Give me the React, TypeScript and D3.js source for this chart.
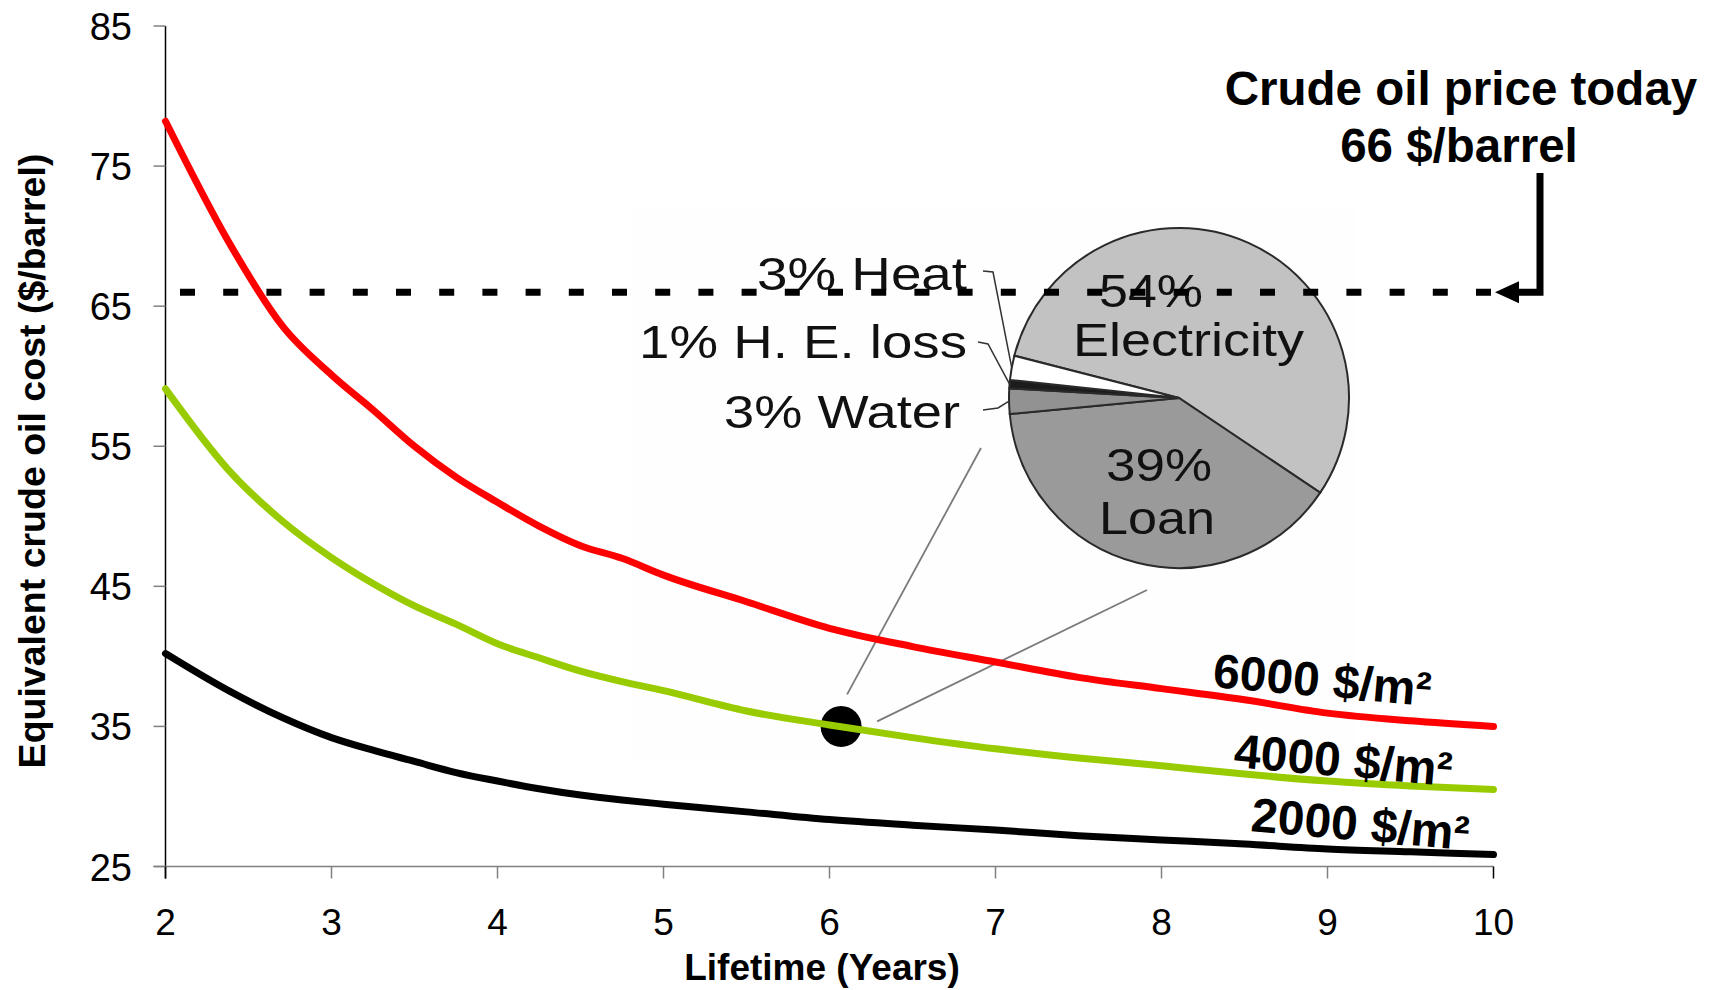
import React from "react";
import * as d3 from "d3";

// ---------- data ----------
const lifetimes = [2, 2.38, 2.71, 3, 3.25, 3.5, 3.75, 4, 4.25, 4.5, 4.75, 5, 5.5, 6, 6.5, 7, 7.5, 8, 8.5, 9, 9.5, 10];
const cost6000 = [78.2, 69.6, 63.5, 60.1, 57.6, 55.0, 52.8, 51.0, 49.3, 47.9, 47.0, 45.8, 43.9, 42.0, 40.7, 39.6, 38.5, 37.7, 36.9, 35.95, 35.4, 35.0];
const cost4000 = [59.1, 53.3, 49.6, 47.05, 45.2, 43.6, 42.3, 40.9, 39.9, 38.95, 38.2, 37.55, 36.1, 35.1, 34.2, 33.4, 32.75, 32.2, 31.6, 31.1, 30.75, 30.5];
const cost2000 = [40.2, 37.55, 35.6, 34.2, 33.3, 32.5, 31.7, 31.1, 30.55, 30.1, 29.75, 29.45, 28.9, 28.35, 27.95, 27.6, 27.2, 26.9, 26.6, 26.25, 26.05, 25.85];
const seriesNames = ["6000 $/m²", "4000 $/m²", "2000 $/m²"];
const seriesColors = ["#ff0000", "#99cc00", "#000000"];

const xTicks = [2, 3, 4, 5, 6, 7, 8, 9, 10];
const yTicks = [25, 35, 45, 55, 65, 75, 85];

const oilPriceToday = 66;
const highlightLifetime = 6.07;
const highlightCost = 35.0;

const pieCategories = ["Electricity", "Loan", "Water", "H. E. loss", "Heat"];
const pieShares = [55.4, 39.1, 2.4, 0.8, 2.3];
const pieLabels = ["54%", "39%", "3%", "1%", "3%"];
const pieColors = ["#c2c2c2", "#9a9a9a", "#929292", "#1c1c1c", "#ffffff"];

// ---------- layout ----------
const W = 1722;
const H = 990;
const FONT = "'Liberation Sans', Arial, Helvetica, sans-serif";

export default function App() {
  const x = d3.scaleLinear().domain([2, 10]).range([165.5, 1493.5]);
  const y = d3.scaleLinear().domain([25, 85]).range([866.5, 26]);

  const line = d3
    .line<number>()
    .x((_, i) => x(lifetimes[i]))
    .y((d) => y(d))
    .curve(d3.curveMonotoneX);

  const series = [cost6000, cost4000, cost2000];

  const pcx = 1179;
  const pcy = 398;
  const pr = 170;
  const start = (-75.6 * Math.PI) / 180;
  const pie = d3
    .pie<number>()
    .sort(null)
    .value((d) => d)
    .startAngle(start)
    .endAngle(start + 2 * Math.PI)(pieShares);
  const arc = d3.arc<d3.PieArcDatum<number>>().innerRadius(0).outerRadius(pr);
  const edge = (a: d3.PieArcDatum<number>) => {
    const m = (a.startAngle + a.endAngle) / 2;
    return [pcx + pr * Math.sin(m), pcy - pr * Math.cos(m)];
  };

  const outside = [
    { i: 4, x: 757, y: 290, len: 210, p0: [983, 271], p1: [993, 272] },
    { i: 3, x: 639, y: 358, len: 328, p0: [978, 342], p1: [988, 344] },
    { i: 2, x: 724, y: 428, len: 236, p0: [983, 410], p1: [998, 408] },
  ];

  const yOil = y(oilPriceToday);
  const hx = x(highlightLifetime);
  const hy = y(highlightCost);
  const PF = 47;

  return (
    <svg
      width={W}
      height={H}
      viewBox={`0 0 ${W} ${H}`}
      style={{ position: "absolute", left: 0, top: 0, display: "block", background: "#fff" }}
      fontFamily={FONT}
    >
      <rect x={0} y={0} width={W} height={H} fill="#ffffff" />

      {/* inset background (very faint) */}
      <rect x={630} y={207} width={725} height={553} fill="#fefefe" />

      {/* pie */}
      <g transform={`translate(${pcx},${pcy})`}>
        {pie.map((a, i) => (
          <path key={i} d={arc(a) || ""} fill={pieColors[i]} stroke="#2a2a2a" strokeWidth={2} />
        ))}
      </g>
      <text x={1099} y={307} fontSize={PF} textLength={104} lengthAdjust="spacingAndGlyphs" fill="#111">
        {pieLabels[0]}
      </text>
      <text x={1073} y={356} fontSize={PF} textLength={231} lengthAdjust="spacingAndGlyphs" fill="#111">
        {pieCategories[0]}
      </text>
      <text x={1106} y={481} fontSize={PF} textLength={106} lengthAdjust="spacingAndGlyphs" fill="#111">
        {pieLabels[1]}
      </text>
      <text x={1099} y={534} fontSize={PF} textLength={116} lengthAdjust="spacingAndGlyphs" fill="#111">
        {pieCategories[1]}
      </text>
      {outside.map((o) => {
        const e = edge(pie[o.i]);
        return (
          <g key={o.i}>
            <text x={o.x} y={o.y} fontSize={PF} textLength={o.len} lengthAdjust="spacingAndGlyphs" fill="#111">
              {`${pieLabels[o.i]} ${pieCategories[o.i]}`}
            </text>
            <polyline
              points={`${o.p0[0]},${o.p0[1]} ${o.p1[0]},${o.p1[1]} ${e[0]},${e[1]}`}
              fill="none"
              stroke="#333"
              strokeWidth={1.5}
            />
          </g>
        );
      })}

      {/* connectors from highlighted point to pie */}
      <line x1={hx + 6} y1={hy - 32} x2={981} y2={448} stroke="#7a7a7a" strokeWidth={1.8} />
      <line x1={hx + 36} y1={hy - 5} x2={1147} y2={590} stroke="#7a7a7a" strokeWidth={1.8} />
      <circle cx={hx} cy={hy} r={20.5} fill="#000" />

      {/* axes */}
      <g>
        <line x1={x(2)} y1={y(85)} x2={x(2)} y2={y(25) + 12} stroke="#000" strokeWidth={1.5} />
        <line x1={x(2) - 12} y1={y(25)} x2={x(10)} y2={y(25)} stroke="#808080" strokeWidth={1.5} />
        {yTicks.map((t) => (
          <g key={t}>
            <line x1={x(2) - 12} x2={x(2)} y1={y(t)} y2={y(t)} stroke="#808080" strokeWidth={1.5} />
            <text x={132} y={y(t) + 14} fontSize={38} textAnchor="end" fill="#000">
              {t}
            </text>
          </g>
        ))}
        {xTicks.map((t) => (
          <g key={t}>
            <line x1={x(t)} x2={x(t)} y1={y(25)} y2={y(25) + 12} stroke={t === 2 || t === 10 ? "#000" : "#808080"} strokeWidth={1.5} />
            <text x={x(t)} y={935} fontSize={37} textAnchor="middle" fill="#000">
              {t}
            </text>
          </g>
        ))}
        <text x={822} y={980} fontSize={37} fontWeight="bold" textAnchor="middle" fill="#000">
          Lifetime (Years)
        </text>
        <text
          transform="translate(45,461) rotate(-90)"
          fontSize={37.5}
          fontWeight="bold"
          textAnchor="middle"
          fill="#000"
        >
          Equivalent crude oil cost ($/barrel)
        </text>
      </g>

      {/* series */}
      {series.map((s, i) => (
        <path
          key={i}
          d={line(s) || ""}
          fill="none"
          stroke={seriesColors[i]}
          strokeWidth={7}
          strokeLinecap="round"
          strokeLinejoin="round"
        />
      ))}

      {/* series labels */}
      <text transform="translate(1212,687) rotate(5)" fontSize={48} fontWeight="bold" fill="#000">
        {seriesNames[0]}
      </text>
      <text transform="translate(1233,767) rotate(5)" fontSize={48} fontWeight="bold" fill="#000">
        {seriesNames[1]}
      </text>
      <text transform="translate(1250,831) rotate(5)" fontSize={48} fontWeight="bold" fill="#000">
        {seriesNames[2]}
      </text>

      {/* crude oil price line */}
      <line x1={180} x2={1491} y1={yOil} y2={yOil} stroke="#000" strokeWidth={7} strokeDasharray="15 28.2" />
      <polyline
        points={`1540,173 1540,${yOil} 1512,${yOil}`}
        fill="none"
        stroke="#000"
        strokeWidth={7}
      />
      <path d={`M1495,${yOil} L1519,${yOil - 11} L1519,${yOil + 11} Z`} fill="#000" />
      <text x={1461} y={105} fontSize={47.5} fontWeight="bold" textAnchor="middle" fill="#000">
        Crude oil price today
      </text>
      <text x={1459} y={162} fontSize={47.5} fontWeight="bold" textAnchor="middle" fill="#000">
        {`${oilPriceToday} $/barrel`}
      </text>
    </svg>
  );
}
